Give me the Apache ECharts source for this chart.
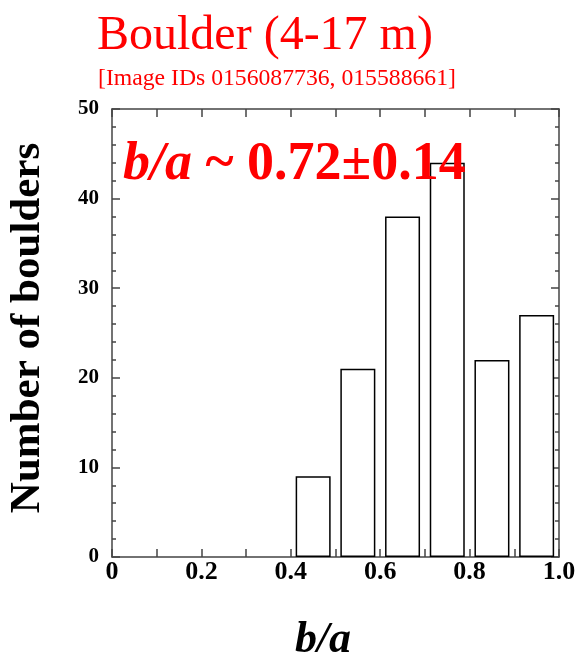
<!DOCTYPE html>
<html>
<head>
<meta charset="utf-8">
<script src="https://cdn.jsdelivr.net/npm/echarts@6/dist/echarts.min.js"></script>
<style>
html,body{margin:0;padding:0;background:#fff;}
#chart{width:585px;height:661px;}
</style>
</head>
<body>
<div id="chart"></div>
<script>
// Data
const binCenters = [0.45, 0.55, 0.65, 0.75, 0.85, 0.95];
const counts = [9, 21, 38, 44, 22, 27];
const xTickLabels = ['0', '0.2', '0.4', '0.6', '0.8', '1.0'];
const yTickLabels = ['0', '10', '20', '30', '40', '50'];
const titleText = 'Boulder (4-17 m)';
const subtitleText = '[Image IDs 0156087736, 015588661]';
const statText = '~ 0.72\u00b10.14';

const FONT = '"Liberation Serif", "Times New Roman", serif';
const AX = '#444';

const chart = echarts.init(document.getElementById('chart'), null, {renderer: 'canvas'});

const xLabelFmt = v => {
  const k = Math.round(v * 10);
  if (k % 2) return '';
  return xTickLabels[k / 2] || '';
};
const yLabelFmt = v => {
  const k = Math.round(v / 10);
  return yTickLabels[k] !== undefined ? yTickLabels[k] : '';
};

function baseX() {
  return {
    type: 'value', min: 0, max: 1, interval: 0.1,
    splitLine: {show: false},
    axisLine: {show: true, onZero: false, lineStyle: {color: AX, width: 1.5}},
    axisTick: {show: true, inside: true, length: 8, lineStyle: {color: AX, width: 1.5}}
  };
}
function baseY() {
  return {
    type: 'value', min: 0, max: 50, interval: 10,
    splitLine: {show: false},
    axisLine: {show: true, onZero: false, lineStyle: {color: AX, width: 1.5}},
    axisTick: {show: true, inside: true, length: 8, lineStyle: {color: AX, width: 1.5}},
    minorTick: {show: true, splitNumber: 5, length: 4, lineStyle: {color: AX, width: 1.5}},
    minorSplitLine: {show: false}
  };
}

const option = {
  backgroundColor: '#fff',
  animation: false,
  grid: {left: 112, top: 109, width: 447, height: 448, containLabel: false},
  xAxis: [
    Object.assign(baseX(), {
      position: 'bottom',
      axisLabel: {show: true, formatter: xLabelFmt, margin: 2, color: '#000',
        fontFamily: FONT, fontWeight: 'bold', fontSize: 26, showMinLabel: true, showMaxLabel: true}
    }),
    Object.assign(baseX(), {position: 'top', axisLabel: {show: false}})
  ],
  yAxis: [
    Object.assign(baseY(), {
      position: 'left',
      axisLabel: {show: true, formatter: yLabelFmt, margin: 13, color: '#000',
        fontFamily: FONT, fontWeight: 'bold', fontSize: 21}
    }),
    Object.assign(baseY(), {position: 'right', axisLabel: {show: false}})
  ],
  series: [{
    type: 'bar',
    xAxisIndex: 0, yAxisIndex: 0,
    barWidth: 35,
    data: binCenters.map((c, i) => [c, counts[i]]),
    itemStyle: {color: '#fff', borderColor: '#000', borderWidth: 1.5},
    z: 1
  }],
  graphic: [
    {type: 'text', left: 97, top: 12, z: 10,
      style: {text: titleText, font: '48px ' + FONT, fill: '#ff0000'}},
    {type: 'text', left: 98, top: 67, z: 10,
      style: {text: subtitleText, font: '23.7px ' + FONT, fill: '#ff0000'}},
    {type: 'text', left: 123, top: 138, z: 10,
      style: {
        text: '{a|b/a} {b|' + statText + '}',
        rich: {
          a: {font: 'italic bold 54px ' + FONT, fill: '#ff0000'},
          b: {font: 'bold 54px ' + FONT, fill: '#ff0000'}
        },
        fill: '#ff0000', font: 'bold 54px ' + FONT
      }},
    {type: 'text', x: 323, y: 641, z: 10,
      style: {text: 'b/a', font: 'italic bold 44px ' + FONT, fill: '#000',
        align: 'center', verticalAlign: 'middle'}},
    {type: 'text', x: 28, y: 328, rotation: Math.PI / 2, z: 10,
      style: {text: 'Number of boulders', font: 'bold 43px ' + FONT, fill: '#000',
        align: 'center', verticalAlign: 'middle'}}
  ]
};
chart.setOption(option);
</script>
</body>
</html>
